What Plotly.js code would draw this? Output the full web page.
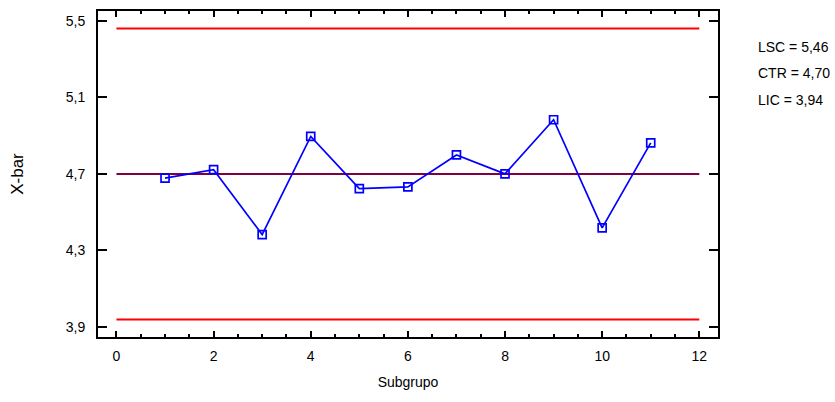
<!DOCTYPE html>
<html>
<head>
<meta charset="utf-8">
<script src="https://cdn.plot.ly/plotly-3.0.1.min.js"></script>
<style>html,body{margin:0;padding:0;background:#fff;}#chart{width:835px;height:402px;}</style>
</head>
<body>
<div id="chart"></div>
<script>
// Data
const subgroups = [1, 2, 3, 4, 5, 6, 7, 8, 9, 10, 11];
const xbar = [4.678, 4.722, 4.383, 4.896, 4.623, 4.632, 4.799, 4.700, 4.983, 4.418, 4.862];
const limitX = [0, 12];
const LSC = 5.46;
const CTR = 4.70;
const LIC = 3.94;
const limitNames = ["LSC", "CTR", "LIC"];
const limitValues = [LSC, CTR, LIC];

const fmt = v => v.toFixed(2).replace('.', ',');
const FONT = 'Arial, "Liberation Sans", sans-serif';

const traces = [
  {x: limitX, y: [LSC, LSC], mode: 'lines', line: {color: '#ff0000', width: 2}, hoverinfo: 'skip'},
  {x: limitX, y: [LIC, LIC], mode: 'lines', line: {color: '#ff0000', width: 2}, hoverinfo: 'skip'},
  {x: limitX, y: [CTR, CTR], mode: 'lines', line: {color: '#800040', width: 2}, hoverinfo: 'skip'},
  {x: subgroups, y: xbar, mode: 'lines+markers',
   line: {color: '#0000ff', width: 1.7},
   marker: {symbol: 'square-open', size: 8, color: '#0000ff', line: {width: 1.7, color: '#0000ff'}}}
];

const annY = [0.889, 0.811, 0.727];
const annotations = limitNames.map((n, i) => ({
  xref: 'paper', yref: 'paper', x: 1.062, y: annY[i], xanchor: 'left', yanchor: 'middle',
  text: n + ' = ' + fmt(limitValues[i]), showarrow: false,
  font: {family: FONT, size: 14, color: '#000'}
}));

const layout = {
  width: 835, height: 402,
  margin: {l: 98, r: 117, t: 11, b: 65},
  paper_bgcolor: '#fff', plot_bgcolor: '#fff',
  showlegend: false,
  separators: ',.',
  font: {family: FONT, color: '#000'},
  xaxis: {
    range: [-0.38, 12.385], tick0: 0, dtick: 2,
    ticks: 'inside', ticklen: 6, tickwidth: 2, tickcolor: '#000',
    minor: {dtick: 0.5, ticks: 'inside', ticklen: 3, tickwidth: 2, tickcolor: '#000'},
    showline: true, linewidth: 2, linecolor: '#000', mirror: 'ticks',
    showgrid: false, zeroline: false,
    tickfont: {family: FONT, size: 14},
    ticklabelstandoff: 5,
    title: {text: 'Subgrupo', font: {family: FONT, size: 14}, standoff: 14}
  },
  yaxis: {
    range: [3.848, 5.551], tick0: 3.9, dtick: 0.4, tickformat: '.1f',
    ticks: 'inside', ticklen: 9, tickwidth: 2, tickcolor: '#000',
    showline: true, linewidth: 2, linecolor: '#000', mirror: 'ticks',
    showgrid: false, zeroline: false,
    tickfont: {family: FONT, size: 14},
    ticklabelstandoff: 8,
    title: {text: 'X-bar', font: {family: FONT, size: 17}, standoff: 38}
  },
  annotations: annotations
};

Plotly.newPlot('chart', traces, layout, {staticPlot: true, displayModeBar: false});
</script>
</body>
</html>
